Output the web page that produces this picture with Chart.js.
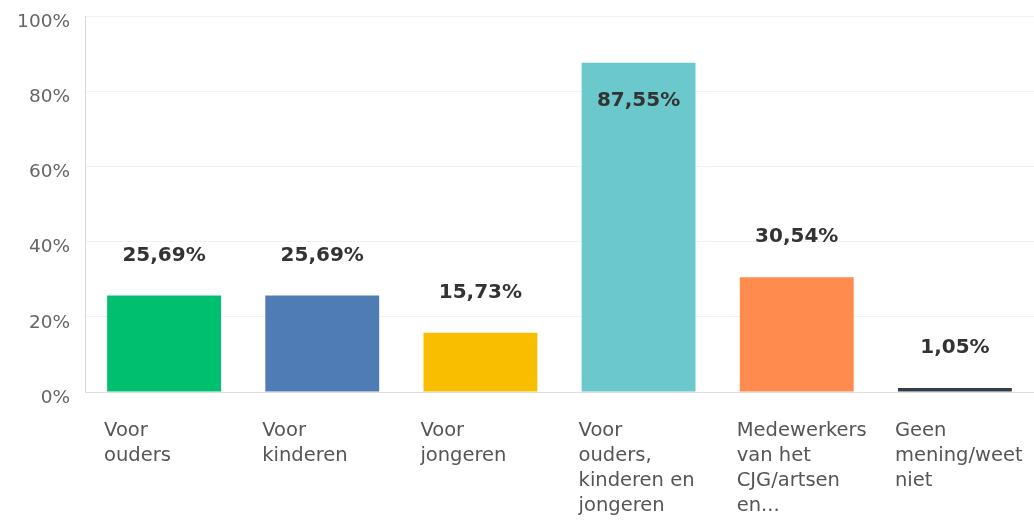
<!DOCTYPE html>
<html>
<head>
<meta charset="utf-8">
<script src="https://cdn.jsdelivr.net/npm/chart.js@4/dist/chart.umd.min.js"></script>
<style>
html,body{margin:0;padding:0;background:#fff;}
#wrap{width:1034px;height:522px;position:relative;}
</style>
</head>
<body>
<div id="wrap"><canvas id="c" width="1034" height="522"></canvas></div>
<script>
const categories = [
  ["Voor", "ouders"],
  ["Voor", "kinderen"],
  ["Voor", "jongeren"],
  ["Voor", "ouders,", "kinderen en", "jongeren"],
  ["Medewerkers", "van het", "CJG/artsen", "en..."],
  ["Geen", "mening/weet", "niet"]
];
const values = [25.69, 25.69, 15.73, 87.55, 30.54, 1.05];
const barColors = ["#00bf6f", "#507cb6", "#f9be00", "#6bc8cd", "#ff8b4f", "#333e48"];
const yTicks = [0, 20, 40, 60, 80, 100];

const valueLabels = {
  id: 'valueLabels',
  afterDatasetsDraw(chart) {
    const ctx = chart.ctx;
    const meta = chart.getDatasetMeta(0);
    ctx.save();
    ctx.font = 'bold 20px "DejaVu Sans"';
    ctx.textAlign = 'center';
    ctx.textBaseline = 'middle';
    ctx.fillStyle = '#333333';
    meta.data.forEach((bar, i) => {
      const txt = values[i].toFixed(2).replace('.', ',') + '%';
      let y = bar.y - 40;
      if (y < chart.chartArea.top + 12) y = bar.y + 38;
      ctx.fillText(txt, bar.x, y);
    });
    ctx.restore();
  }
};

new Chart(document.getElementById('c'), {
  type: 'bar',
  data: {
    labels: categories,
    datasets: [{
      data: values,
      backgroundColor: barColors,
      borderWidth: 0,
      categoryPercentage: 0.72,
      barPercentage: 1.0
    }]
  },
  options: {
    responsive: false,
    animation: false,
    layout: { padding: { left: 0, top: 16, right: 0, bottom: 0 } },
    plugins: { legend: { display: false }, tooltip: { enabled: false } },
    scales: {
      x: {
        grid: { display: false, drawTicks: false },
        border: { color: '#dddddd', width: 1 },
        afterFit(scale) { scale.paddingRight = 0; scale.paddingLeft = 0; scale.height = 130; },
        ticks: {
          autoSkip: false,
          maxRotation: 0,
          minRotation: 0,
          align: 'start',
          labelOffset: -60,
          padding: 26,
          color: '#555555',
          font: { family: '"DejaVu Sans"', size: 19.5, lineHeight: 1.29 }
        }
      },
      y: {
        min: 0,
        max: 100,
        afterBuildTicks(scale) { scale.ticks = yTicks.map(v => ({ value: v })); },
        afterFit(scale) { scale.width = 85; scale.paddingTop = 0; scale.paddingBottom = 0; },
        grid: { color: '#f2f2f2', drawTicks: false },
        border: { color: '#d9d9d9', width: 1 },
        ticks: {
          padding: 15,
          labelOffset: 6,
          color: '#666666',
          font: { family: '"DejaVu Sans"', size: 18.5 },
          callback: v => v + '%'
        }
      }
    }
  },
  plugins: [valueLabels]
});
</script>
</body>
</html>
